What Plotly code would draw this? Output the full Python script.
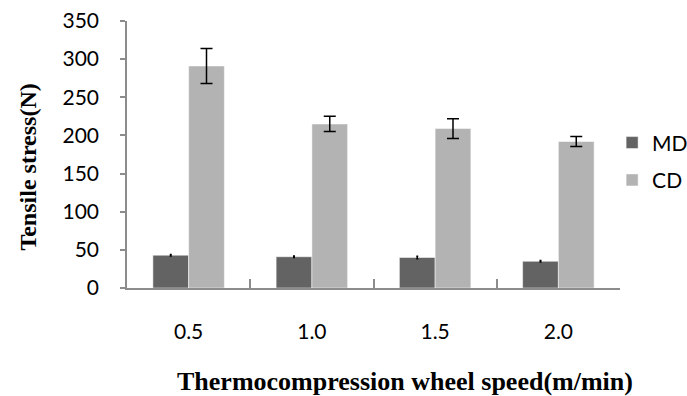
import plotly.graph_objects as go

categories = ["0.5", "1.0", "1.5", "2.0"]
md_values = [43, 41, 40, 35]
md_errors = [1, 1, 1.5, 1]
cd_values = [291, 215, 209, 192]
cd_errors = [23, 10, 13, 6.5]

fig = go.Figure()
fig.add_trace(go.Bar(
    x=categories, y=md_values, name="MD",
    marker=dict(color="#636363", line=dict(color="#ffffff", width=0.5)),
    error_y=dict(type="data", array=md_errors, color="black", thickness=1.5, width=1),
    legendgroup="a",
))
fig.add_trace(go.Bar(
    x=categories, y=cd_values, name="CD",
    marker=dict(color="#b3b3b3", line=dict(color="#ffffff", width=0.5)),
    error_y=dict(type="data", array=cd_errors, color="black", thickness=1.5, width=6),
    legendgroup="b",
))

fig.update_layout(
    width=687, height=396,
    margin=dict(l=127, r=67, t=21, b=108, autoexpand=False),
    paper_bgcolor="white", plot_bgcolor="white",
    barmode="group", bargap=0.42, bargroupgap=0,
    font=dict(family="Lato", size=21, color="#000000"),
    showlegend=True,
    legend=dict(x=0.984, y=0.474, xanchor="left", yanchor="middle",
                traceorder="grouped", tracegroupgap=7,
                font=dict(family="Lato", size=21, color="#000000"),
                itemwidth=30),
    xaxis=dict(
        type="category", range=[-0.5, 3.5], automargin=False,
        showline=True, linecolor="#8c8c8c", linewidth=1.5,
        ticks="inside", tickson="boundaries", ticklen=9, tickcolor="#8c8c8c", tickwidth=1.5,
        showgrid=False, ticklabelstandoff=24,
        tickfont=dict(family="Lato", size=21, color="#000000"),
    ),
    yaxis=dict(
        range=[0, 350], dtick=50, automargin=False,
        showline=True, linecolor="#8c8c8c", linewidth=1.5,
        ticks="outside", ticklen=5, tickcolor="#8c8c8c", tickwidth=1.5,
        showgrid=False, zeroline=False, ticklabelstandoff=17,
        tickfont=dict(family="Lato", size=21, color="#000000"),
    ),
    annotations=[
        dict(text="<b>Thermocompression wheel speed(m/min)</b>",
             xref="paper", yref="paper", x=(405 - 127) / 493, y=(288 - 381) / 267,
             xanchor="center", yanchor="middle", showarrow=False,
             font=dict(family="Liberation Serif", size=26, color="#000000")),
        dict(text="<b>Tensile stress(N)</b>", textangle=-90,
             xref="paper", yref="paper", x=(28 - 127) / 493, y=0.451,
             xanchor="center", yanchor="middle", showarrow=False,
             font=dict(family="Liberation Serif", size=24, color="#000000")),
    ],
)

fig.write_html("out.html", config={"displayModeBar": False},
               post_script="document.body.style.margin='0';document.body.style.overflow='hidden';")
